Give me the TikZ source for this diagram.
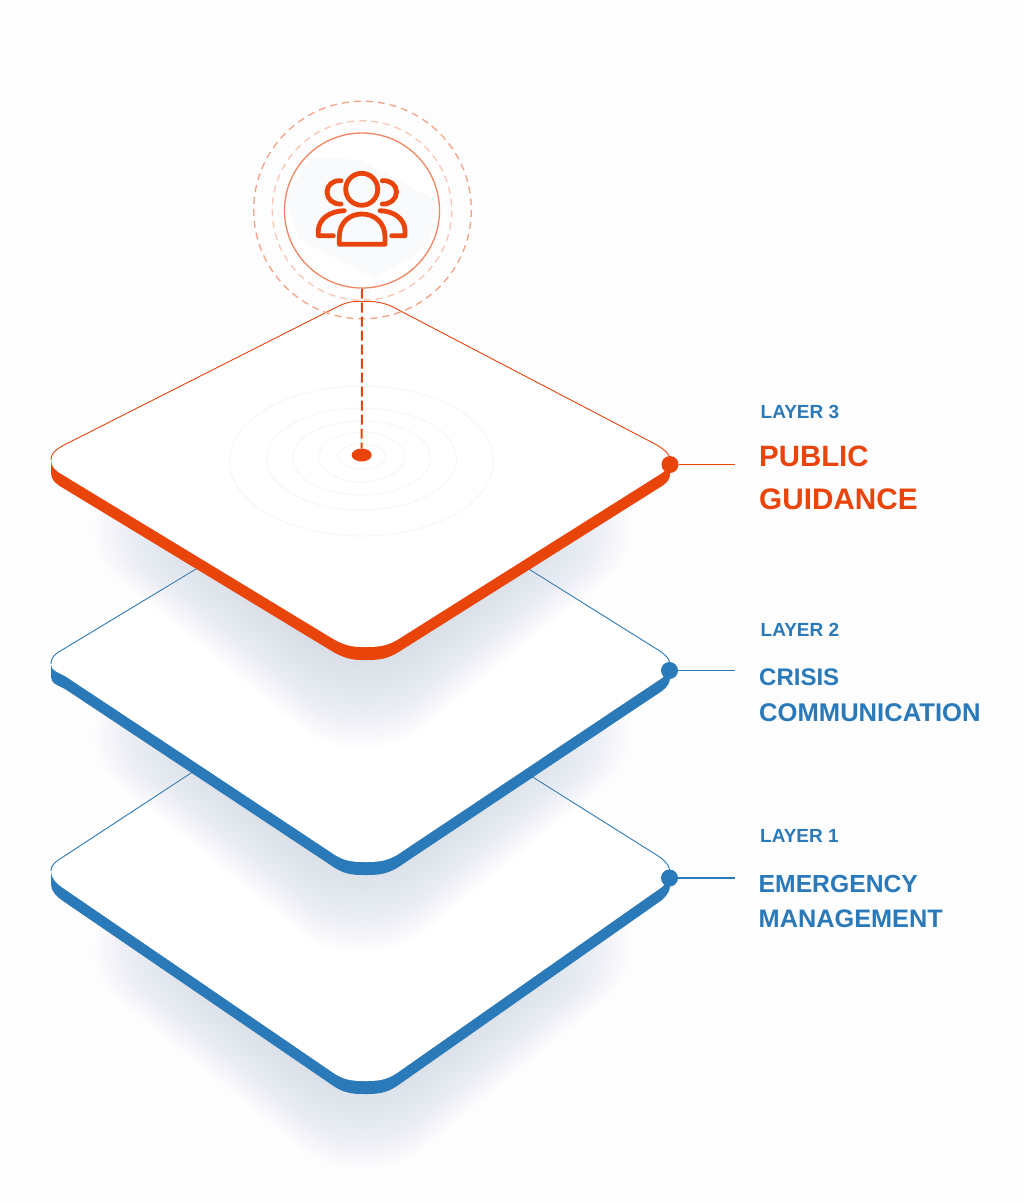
\documentclass[tikz,border=0pt]{standalone}
\usepackage{fontspec}
\usetikzlibrary{shapes.geometric}
\setmainfont{Liberation Sans}
\definecolor{orangeA}{HTML}{E9440A}
\definecolor{blueA}{HTML}{2A79B8}
\definecolor{bgA}{HTML}{FDFDFE}
\definecolor{shadowA}{HTML}{A9B1C1}
\definecolor{paleA}{HTML}{F9FAFB}
\definecolor{ringA}{HTML}{F9F5F3}
\newcommand{\labelfont}[1]{\fontsize{#1}{#1}\selectfont\bfseries}
\tikzset{
  edgeline/.style={line width=0.9pt},
  dotnode/.style={circle,inner sep=0pt,minimum size=17pt},
  smalllabel/.style={anchor=base west,inner sep=0pt,text=blueA,font=\labelfont{19}},
  orangelabel/.style={anchor=base west,inner sep=0pt,text=orangeA},
  bluelabel/.style={anchor=base west,inner sep=0pt,text=blueA},
  leader/.style={line width=1.4pt},
  iconline/.style={draw=orangeA,line width=4.8pt,line cap=round,line join=round},
  ripple/.style={draw=ringA,line width=0.9pt},
}
% soft shadow: nested rounded diamonds, centre x 362
\newcommand{\softshadow}[1]{%
  \foreach \k in {0,...,39}{%
    \pgfmathsetmacro{\wd}{140+\k*4.2}%
    \pgfmathsetmacro{\hd}{100+\k*3.8}%
    \fill[shadowA,fill opacity=0.017,rounded corners=80pt]
      (362-\wd,#1) -- (362,#1-\hd) -- (362+\wd,#1) -- (362,#1+\hd) -- cycle;
  }}
\newcommand{\platethree}{(51,460) .. controls (51,451) and (60,447) .. (72,441) -- (338,306.4) .. controls (350,300.5) and (356,301.5) .. (362,301.5) .. controls (368,301.5) and (376,300.5) .. (390,305.5) -- (655,444) .. controls (664,449) and (670,454) .. (670,460) .. controls (670,466) and (668,469) .. (662,473) -- (397,640) .. controls (385,647) and (376,647) .. (364,647) .. controls (352,647) and (345,646) .. (330,637) -- (63,475) .. controls (56,471) and (51,467) .. (51,460) -- cycle}
\newcommand{\platetwo}{(51,664) .. controls (51,657) and (55,654) .. (62,650) -- (345,479) -- (362,470) -- (385,479) -- (655,648) .. controls (664,653) and (670,659) .. (670,664) .. controls (670,670) and (668,673) .. (662,678) -- (397,855) .. controls (385,862) and (376,862) .. (364,862) .. controls (352,862) and (345,861) .. (335,855) -- (65,676) .. controls (57,672) and (51,670) .. (51,664) -- cycle}
\newcommand{\plateone}{(51,871) .. controls (51,865) and (55,862) .. (63,857) -- (345,672) -- (362,668) -- (380,681) -- (655,854) .. controls (664,859) and (670,866) .. (670,872) .. controls (670,878) and (668,881) .. (662,887) -- (397,1073) .. controls (385,1081) and (376,1081) .. (364,1081) .. controls (352,1081) and (345,1080) .. (335,1074) -- (63,888) .. controls (56,883) and (51,878) .. (51,871) -- cycle}
\begin{document}
\begin{tikzpicture}[x=1pt,y=-1pt]
\useasboundingbox (0,0) rectangle (1025,1202);
\fill[bgA] (0,0) rectangle (1025,1202);

% ---- layer 1
\softshadow{950}
\fill[blueA,shift={(0,13)}] \plateone;
\fill[blueA] (51,871) rectangle (62,884);
\fill[white] \plateone;
\draw[blueA,edgeline] (51,871) .. controls (51,865) and (55,862) .. (63,857) -- (345,672) (380,681) -- (655,854) .. controls (664,859) and (670,866) .. (670,872);

% ---- layer 2
\softshadow{735}
\fill[blueA,shift={(0,13)}] \platetwo;
\fill[blueA] (51,664) rectangle (62,677);
\fill[white] \platetwo;
\draw[blueA,edgeline] (51,664) .. controls (51,657) and (55,654) .. (62,650) -- (345,479) (385,479) -- (655,648) .. controls (664,653) and (670,659) .. (670,664);

% ---- layer 3
\softshadow{530}
\fill[orangeA,shift={(0,13)}] \platethree;
\fill[orangeA] (51,460) rectangle (62,473);
\fill[white] \platethree;
\draw[orangeA,edgeline] (51,460) .. controls (51,451) and (60,447) .. (72,441) -- (338,306.4) .. controls (350,300.5) and (356,301.5) .. (362,301.5) .. controls (368,301.5) and (376,300.5) .. (390,305.5) -- (655,444) .. controls (664,449) and (670,454) .. (670,460);

% ripples
\draw[ripple] (361.5,461) ellipse [x radius=132,y radius=75];
\draw[ripple] (361.5,459) ellipse [x radius=95,y radius=51];
\draw[ripple] (361.5,458) ellipse [x radius=69,y radius=37];
\draw[ripple] (361.5,457) ellipse [x radius=43,y radius=25];
\draw[ripple] (361.5,456.5) ellipse [x radius=24,y radius=12.5];

% icon rings
\draw[draw=orangeA!50,line width=1.3pt,dash pattern=on 7pt off 5pt] (362.5,210) circle [radius=108.8];
\draw[draw=orangeA!30,line width=1.3pt,dash pattern=on 7pt off 5pt] (362,210.5) circle [radius=89.7];
\fill[white] (362,210.5) circle [radius=77.5];
\begin{scope}
  \clip (362,210.5) circle [radius=77];
  \fill[paleA] (285,200) -- (310,157) -- (360,160) -- (435,200) -- (430,240) -- (415,255) -- (375,278) -- (300,240) -- cycle;
\end{scope}
\node[circle,draw=orangeA!65,line width=1.3pt,inner sep=0pt,minimum size=155pt] (hub) at (362,210.5) {};

% people icon
\draw[iconline] (361.7,189.3) circle [radius=16];
\draw[iconline] (341,180.7) .. controls (333,180) and (327,185) .. (327,192) .. controls (327,199) and (333,204.5) .. (341,204);
\draw[iconline] (382.3,180.7) .. controls (390.3,180) and (396.5,185) .. (396.5,192) .. controls (396.5,199) and (390.3,204.5) .. (382.3,204);
\draw[iconline] (344.3,210.7) .. controls (330,211) and (318.3,219) .. (318.3,231) -- (318.3,235.7) -- (333.3,235.7);
\draw[iconline] (380,210.7) .. controls (394,211) and (405,219) .. (405,231) -- (405,235.7) -- (391.7,235.7);
\draw[iconline] (339.3,244.3) -- (339.3,237) .. controls (339.3,223) and (349,214) .. (362,214) .. controls (375,214) and (385,223) .. (385,237) -- (385,244.3) -- cycle;

% centre dot and dashed drop line
\node[ellipse,fill=orangeA,inner sep=0pt,minimum width=20pt,minimum height=13pt] (target) at (361.7,455) {};
\draw[orangeA,line width=2pt,dash pattern=on 10pt off 4pt] (hub.south) -- (target.north);

% side dots, leaders
\node[dotnode,fill=orangeA] (dotthree) at (670,464.5) {};
\node[dotnode,fill=blueA] (dottwo) at (669.5,670.5) {};
\node[dotnode,fill=blueA] (dotone) at (669.5,878) {};
\coordinate (endthree) at (735,464.5);
\coordinate (endtwo) at (735,670.5);
\coordinate (endone) at (735,878);
\draw[orangeA,leader] (dotthree) -- (endthree);
\draw[blueA,leader] (dottwo) -- (endtwo);
\draw[blueA,leader] (dotone) -- (endone);

% labels
\node[smalllabel] (lthree) at (760.5,418.3) {LAYER 3};
\node[orangelabel,font=\labelfont{29.4}] (public) at (759,466) {PUBLIC};
\node[orangelabel,font=\labelfont{29.7}] (guidance) at (759,509.3) {GUIDANCE};
\node[smalllabel] (ltwo) at (760.5,636.7) {LAYER 2};
\node[bluelabel,font=\labelfont{24}] (crisis) at (759,685) {CRISIS};
\node[bluelabel,font=\labelfont{25.6}] (comm) at (759,721.7) {COMMUNICATION};
\node[smalllabel] (lone) at (760,842.7) {LAYER 1};
\node[bluelabel,font=\labelfont{24.7}] (emerg) at (758.5,892.7) {EMERGENCY};
\node[bluelabel,font=\labelfont{25.3}] (manag) at (758.5,927.3) {MANAGEMENT};
\end{tikzpicture}
\end{document}
